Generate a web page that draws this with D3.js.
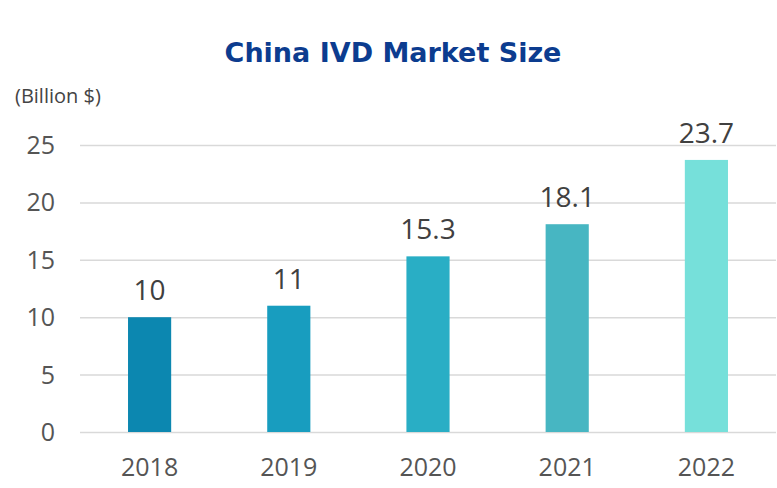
<!DOCTYPE html>
<html>
<head>
<meta charset="utf-8">
<script src="https://cdn.jsdelivr.net/npm/d3@7"></script>
<style>
  body { margin: 0; background: #fff; }
  .grid line { stroke: #d9d9d9; stroke-width: 1.5; }
  .grid .domain { display: none; }
  text { font-family: "Open Sans", sans-serif; }
  .title { font-family: "DejaVu Sans", sans-serif; }
</style>
</head>
<body>
<div class="container"></div>
<script>
var years = ['2018', '2019', '2020', '2021', '2022'];
var values = [10, 11, 15.3, 18.1, 23.7];
var barColors = ['#0c87b0', '#189dbf', '#29aec5', '#47b6c2', '#76e0da'];
var yTicks = [0, 5, 10, 15, 20, 25];

const WIDTH = 777;
const HEIGHT = 488;
const LEFT = 80;
const RIGHT = 776;
const TOP = 145;
const BOTTOM = 432;

let translate = (x, y) => (`translate(${x}, ${y})`);

let xScale = d3.scaleBand()
    .domain(years)
    .range([LEFT, RIGHT])
    .paddingInner(0.69)
    .paddingOuter(0.345);

let yScale = d3.scaleLinear()
    .domain([0, 25])
    .range([BOTTOM, TOP]);

let svg = d3.select('.container').append('svg')
    .attr('width', WIDTH)
    .attr('height', HEIGHT);

// title
svg.append('text')
    .attr('class', 'title')
    .attr('x', 393)
    .attr('y', 62)
    .attr('text-anchor', 'middle')
    .attr('font-size', 27)
    .attr('font-weight', 'bold')
    .attr('fill', '#0c3c8f')
    .text('China IVD Market Size');

svg.append('text')
    .attr('x', 15)
    .attr('y', 103)
    .attr('font-size', 20)
    .attr('fill', '#444')
    .text('(Billion $)');

// gridlines
svg.append('g')
    .attr('class', 'grid')
    .attr('transform', translate(LEFT, 0))
    .call(d3.axisRight(yScale).tickValues(yTicks).tickSize(RIGHT - LEFT).tickFormat(''));

// y tick labels
svg.append('g').selectAll('text')
    .data(yTicks)
    .enter().append('text')
    .attr('x', 55)
    .attr('y', d => yScale(d) + 9)
    .attr('text-anchor', 'end')
    .attr('font-size', 25)
    .attr('fill', '#555')
    .text(d => d);

// bars
svg.append('g').selectAll('rect')
    .data(values)
    .enter().append('rect')
    .attr('x', (d, i) => xScale(years[i]))
    .attr('y', d => yScale(d))
    .attr('width', xScale.bandwidth())
    .attr('height', d => BOTTOM - yScale(d))
    .attr('fill', (d, i) => barColors[i]);

// value labels
svg.append('g').selectAll('text')
    .data(values)
    .enter().append('text')
    .attr('x', (d, i) => xScale(years[i]) + xScale.bandwidth() / 2)
    .attr('y', d => yScale(d) - 17)
    .attr('text-anchor', 'middle')
    .attr('font-size', 28)
    .attr('fill', '#404040')
    .text(d => d);

// x labels
svg.append('g').selectAll('text')
    .data(years)
    .enter().append('text')
    .attr('x', d => xScale(d) + xScale.bandwidth() / 2)
    .attr('y', 476)
    .attr('text-anchor', 'middle')
    .attr('font-size', 25)
    .attr('fill', '#555')
    .text(d => d);
</script>
</body>
</html>
